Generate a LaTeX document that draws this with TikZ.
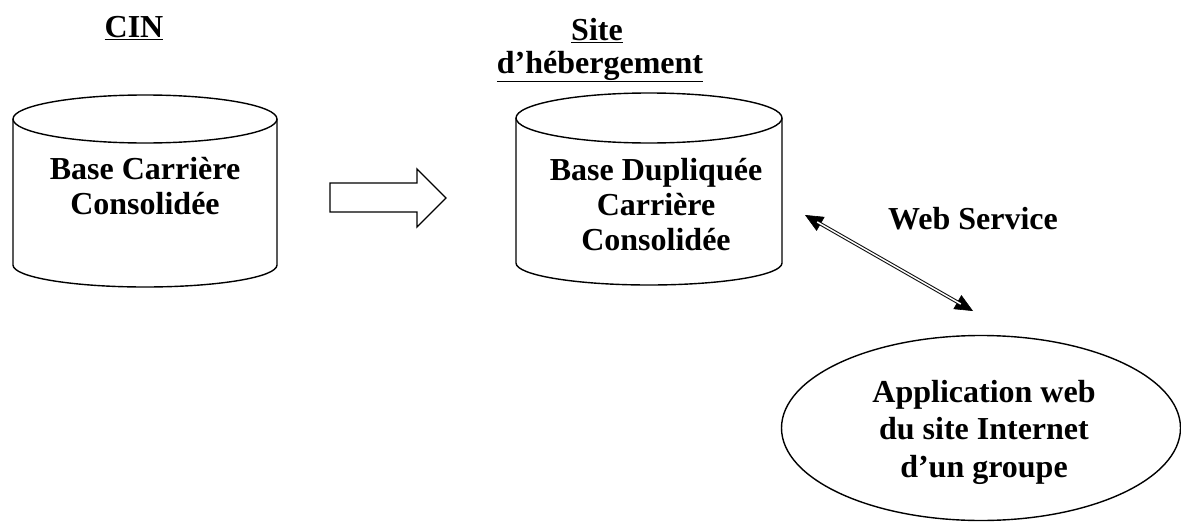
\documentclass[tikz,border=0pt]{standalone}
\usepackage{fontspec}
\setmainfont{Liberation Serif}
\usetikzlibrary{shapes.geometric,arrows.meta}
\begin{document}
\begin{tikzpicture}[x=1pt,y=-1pt,
  outline/.style={draw=black,line width=1.4pt},
  lbl/.style={font=\bfseries\fontsize{32}{35}\selectfont,align=center,inner sep=0pt},
  wstip/.style={{Triangle[length=18pt,width=16pt]}-{Triangle[length=18pt,width=16pt]}}]
\useasboundingbox (0,0) rectangle (1181,522);
% cylinder 1
\draw[outline] (13,119) -- (13,265) arc[start angle=180,end angle=360,x radius=132pt,y radius=22pt] -- (277,119);
\draw[outline,fill=white] (145,119) ellipse[x radius=132pt,y radius=24pt];
\node[lbl] (cyl1) at (145,186) {Base Carrière\\Consolidée};
\node[lbl,anchor=base] (cin) at (134,37) {\underline{CIN}};
% cylinder 2
\draw[outline] (516,118) -- (516,263) arc[start angle=180,end angle=360,x radius=133pt,y radius=22pt] -- (782,118);
\draw[outline,fill=white] (649,118) ellipse[x radius=133pt,y radius=25pt];
\node[lbl] (cyl2) at (656,205) {Base Dupliquée\\Carrière\\Consolidée};
\node[lbl,anchor=base] (site) at (597,40) {\underline{Site}};
\node[lbl,anchor=base] (heb) at (600,73) {\underline{d’hébergement}};
% block arrow
\draw[outline,line join=miter] (330,183) -- (417,183) -- (417,169) -- (446,198) -- (417,227) -- (417,212) -- (330,212) -- cycle;
% ellipse
\node[outline,ellipse,minimum width=399pt,minimum height=185pt,inner sep=0pt,
  font=\bfseries\fontsize{32}{37.5}\selectfont,align=center] (app) at (981,428) {};
\node[font=\bfseries\fontsize{32}{37.5}\selectfont,align=center,inner sep=0pt] (apptext) at (984,432) {Application web\\du site Internet\\d’un groupe};
% web service connector
\coordinate (ws1) at (805,215);
\coordinate (ws2) at (973,311);
\draw[line width=0.6pt,wstip] (ws1) -- (ws2);
\draw[line width=1pt,double=white,double distance=1.5pt,shorten <=14pt,shorten >=14pt] (ws1) -- (ws2);
\node[lbl,anchor=base] (wslabel) at (973,229) {Web Service};
\end{tikzpicture}
\end{document}
